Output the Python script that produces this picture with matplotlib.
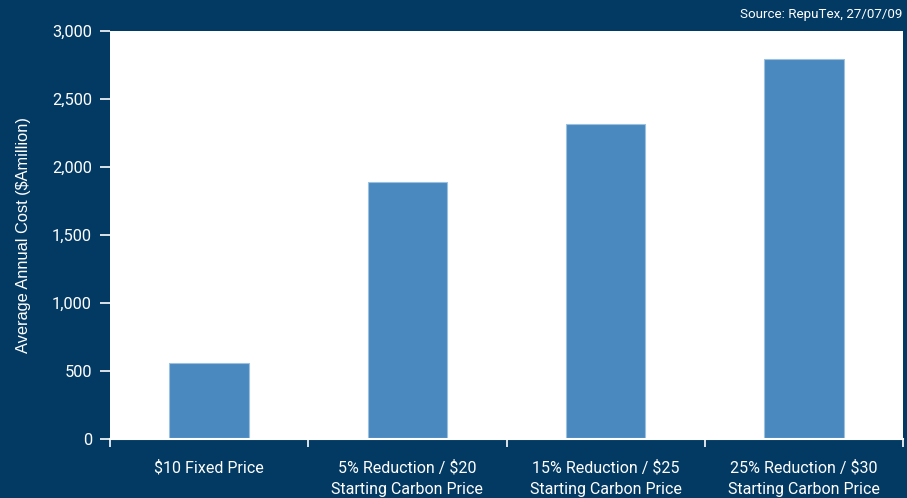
import matplotlib.pyplot as plt
from matplotlib import font_manager

# Scenario costs (A$ million per year)
scenarios = [
    "$10 Fixed Price",
    "5% Reduction / $20\nStarting Carbon Price",
    "15% Reduction / $25\nStarting Carbon Price",
    "25% Reduction / $30\nStarting Carbon Price",
]
annual_cost = [560, 1890, 2315, 2795]
y_ticks = [0, 500, 1000, 1500, 2000, 2500, 3000]
y_tick_labels = ["0", "500", "1,000", "1,500", "2,000", "2,500", "3,000"]

navy = "#033a63"
bar_blue = "#4a89bf"

names = {f.name for f in font_manager.fontManager.ttflist}
narrow = "Liberation Sans Narrow" if "Liberation Sans Narrow" in names else "Roboto"

fig = plt.figure(figsize=(9.07, 4.98), dpi=100, facecolor=navy)
ax = fig.add_axes([0.1213, 0.1185, 0.8743, 0.8193])
ax.set_facecolor("white")

x = range(len(scenarios))
ax.bar(x, annual_cost, width=0.4, color=bar_blue, edgecolor="#9cc0e0",
       linewidth=0.8, zorder=2)

ax.set_xlim(-0.5, len(scenarios) - 0.5)
ax.set_ylim(0, 3000)

ax.set_yticks(y_ticks)
ax.set_yticklabels(y_tick_labels, fontsize=11.8, family=narrow, color="white")
ax.tick_params(axis="y", length=7, width=1.2, color="white", pad=6)

# category labels sit between the boundary tick marks
ax.set_xticks([i - 0.5 for i in range(len(scenarios) + 1)])
ax.set_xticklabels([])
ax.tick_params(axis="x", length=5.5, width=1.2, color="white")
ax.set_xticks(list(x), minor=True)
ax.set_xticklabels(scenarios, minor=True, fontsize=11.5, family=narrow,
                   color="white", linespacing=1.55)
ax.tick_params(axis="x", which="minor", length=0, pad=15)

for side in ["top", "right", "left"]:
    ax.spines[side].set_visible(False)
ax.spines["bottom"].set_color("white")
ax.spines["bottom"].set_linewidth(1.5)

ax.set_ylabel("Average Annual Cost ($Amillion)", fontsize=11.8,
              family="Liberation Sans", color="white", labelpad=15)

fig.text(0.9945, 0.958, "Source: RepuTex, 27/07/09", ha="right", va="bottom",
         fontsize=9.6, family=narrow, color="white")

fig.savefig("out.png", dpi=100, facecolor=navy)
